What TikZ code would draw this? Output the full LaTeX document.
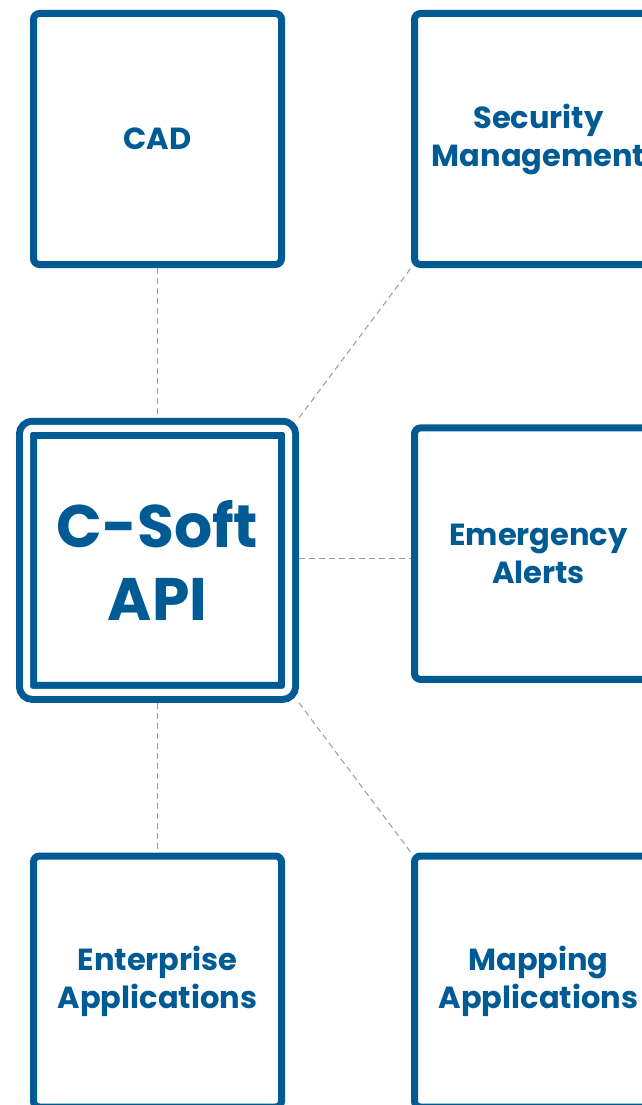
\documentclass[tikz,border=0pt]{standalone}
\usepackage{fontspec}
\setmainfont{Poppins}
\usepackage{xcolor}
\usepackage{tikz}
\definecolor{apiblue}{HTML}{005A94}
\definecolor{linkgray}{HTML}{9A9A9A}

\begin{document}
\begin{tikzpicture}[x=1pt,y=-1pt,
		appbox/.style={draw=apiblue, line width=7pt, rounded corners=6pt,
			minimum width=248pt, minimum height=251pt, inner sep=0pt,
			align=center, text=apiblue, font=\fontsize{30.5}{38}\selectfont\bfseries},
		apibox/.style={appbox, double=white, double distance=7pt,
			minimum width=262pt, minimum height=264pt, outer sep=10.5pt,
			font=\fontsize{60}{73}\selectfont\bfseries},
		link/.style={draw=linkgray, line width=1pt, dash pattern=on 6pt off 4pt}]
		\useasboundingbox (0,0) rectangle (641,1105);

		% Application boxes.
		\node[appbox] (cad) at (157.5,139) {CAD};
		\node[appbox] (sec) at (538.5,139) {Security\\Management};
		\node[appbox, minimum height=251.5pt] (alerts) at (538.5,553.7) {Emergency\\Alerts};
		\node[appbox] (ent) at (157.5,981.5) {Enterprise\\Applications};
		\node[appbox] (map) at (538.5,981.5) {Mapping\\Applications};

		% Central API box.
		\node[apibox] (api) at (157.5,560.3) {C-Soft\\API};

		% Links.
		\draw[link] (cad) -- (api);
		\draw[link] (api.north east) -- (sec.south west);
		\draw[link] ([yshift=2pt]api.east) -- ([yshift=2pt]api.east -| alerts.west);
		\draw[link] (api) -- (ent);
		\draw[link] (api.south east) -- (map.north west);
	\end{tikzpicture}
\end{document}
